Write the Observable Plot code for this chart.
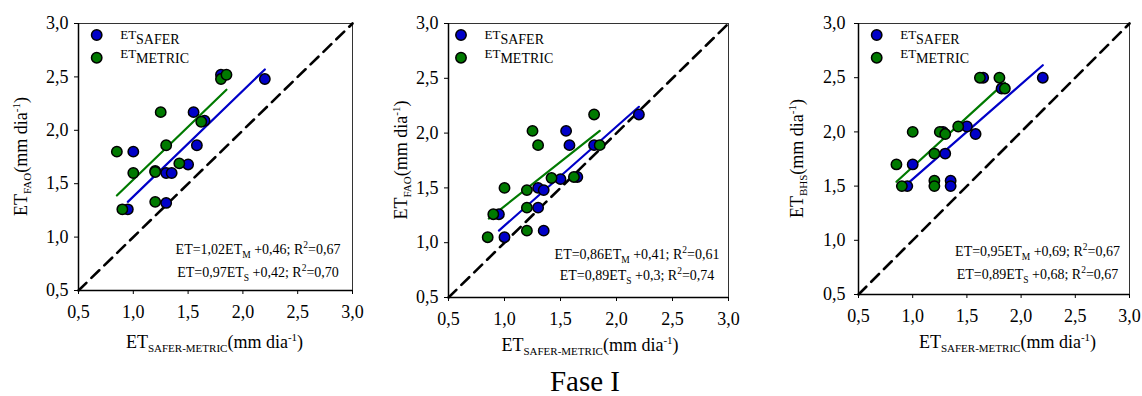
<!DOCTYPE html>
<html><head><meta charset="utf-8">
<script src="https://cdn.jsdelivr.net/npm/d3@7"></script>
<script src="https://cdn.jsdelivr.net/npm/@observablehq/plot@0.6"></script>
<style>
html,body{margin:0;padding:0;background:#fff;}
#wrap{position:relative;width:1142px;height:396px;overflow:hidden;font-family:"Liberation Serif",serif;background:#fff;}
.panel{position:absolute;top:0;}
#fase{position:absolute;left:435px;width:300px;top:366.5px;text-align:center;font-size:29px;line-height:29px;color:#000;}
</style>
</head><body>
<div id="wrap">
  <div class="panel" id="p1" style="left:0px;width:380px;"></div>
  <div class="panel" id="p2" style="left:380px;width:380px;"></div>
  <div class="panel" id="p3" style="left:760px;width:382px;"></div>
  <div id="fase">Fase I</div>
</div>
<script>
// ---------- data ----------
const axisDomain = [0.5, 3.0];
const axisTicks = [0.5, 1.0, 1.5, 2.0, 2.5, 3.0];
const diagonal = [[0.5, 0.5], [3.0, 3.0]];
const seriesNames = ["SAFER", "METRIC"];

// Panel 1 (ET_FAO)
const p1SaferX  = [0.95, 1.30, 1.00, 1.20, 1.30, 1.35, 1.50, 1.55, 1.58, 1.65, 1.80, 2.20];
const p1SaferY  = [1.26, 1.32, 1.80, 1.62, 1.60, 1.60, 1.68, 2.17, 1.86, 2.09, 2.52, 2.48];
const p1MetricX = [0.85, 0.90, 1.00, 1.20, 1.20, 1.25, 1.30, 1.42, 1.62, 1.80, 1.85];
const p1MetricY = [1.80, 1.26, 1.60, 1.61, 1.33, 2.17, 1.86, 1.69, 2.08, 2.48, 2.52];
const p1SaferLine  = [[0.95, 1.33], [2.20, 2.57]];
const p1MetricLine = [[0.85, 1.39], [1.85, 2.38]];
const p1EqM = ["ET=1,02ET", "M", " +0,46; R", "2", "=0,67"];
const p1EqS = ["ET=0,97ET", "S", " +0,42; R", "2", "=0,70"];

// Panel 2 (ET_FAO)
const p2SaferX  = [0.95, 1.00, 1.30, 1.35, 1.30, 1.35, 1.50, 1.65, 1.55, 1.58, 1.80, 2.20];
const p2SaferY  = [1.26, 1.05, 1.32, 1.11, 1.50, 1.48, 1.58, 1.60, 2.02, 1.89, 1.89, 2.17];
const p2MetricX = [0.85, 0.90, 1.00, 1.20, 1.20, 1.20, 1.25, 1.30, 1.42, 1.62, 1.80, 1.85];
const p2MetricY = [1.05, 1.26, 1.50, 1.48, 1.32, 1.11, 2.02, 1.89, 1.59, 1.60, 2.17, 1.89];
const p2SaferLine  = [[0.95, 1.11], [2.20, 2.24]];
const p2MetricLine = [[0.86, 1.22], [1.85, 2.02]];
const p2EqM = ["ET=0,86ET", "M", " +0,41; R", "2", "=0,61"];
const p2EqS = ["ET=0,89ET", "S", " +0,3; R", "2", "=0,74"];

// Panel 3 (ET_BHS)
const p3SaferX  = [0.95, 1.00, 1.30, 1.28, 1.35, 1.35, 1.50, 1.58, 1.65, 1.82, 2.20];
const p3SaferY  = [1.50, 1.70, 1.80, 2.00, 1.55, 1.50, 2.05, 1.98, 2.50, 2.40, 2.50];
const p3MetricX = [0.85, 0.90, 1.00, 1.20, 1.20, 1.20, 1.25, 1.30, 1.42, 1.62, 1.80, 1.85];
const p3MetricY = [1.70, 1.50, 2.00, 1.80, 1.55, 1.50, 2.00, 1.98, 2.05, 2.50, 2.50, 2.40];
const p3SaferLine  = [[0.95, 1.52], [2.20, 2.615]];
const p3MetricLine = [[0.85, 1.54], [1.85, 2.455]];
const p3EqM = ["ET=0,95ET", "M", " +0,69; R", "2", "=0,67"];
const p3EqS = ["ET=0,89ET", "S", " +0,68; R", "2", "=0,67"];

const yTitleSubs = ["FAO", "FAO", "BHS"];
const xTitleSub = "SAFER-METRIC";

// ---------- styling ----------
const BLUE = "#0000c8", GREEN = "#007a00";
const FONT = "Liberation Serif";
const fmt = d => d.toFixed(1).replace(".", ",");
const pts = (xs, ys) => xs.map((x, i) => ({x, y: ys[i]}));

function serif(sel, size) {
  return sel.attr("font-family", FONT).attr("font-size", size)
    .attr("style", `font-family: '${FONT}', serif; font-size: ${size}px`);
}

function panel(el, c) {
  const plot = Plot.plot({
    width: c.width, height: 360,
    marginLeft: c.mL, marginRight: c.mR, marginTop: 23, marginBottom: c.mB,
    x: {domain: axisDomain},
    y: {domain: axisDomain},
    style: {fontFamily: FONT, fontSize: "18px", color: "#000", background: "#fff", overflow: "visible"},
    marks: [
      Plot.frame({stroke: "#333", strokeWidth: 1}),
      Plot.line(diagonal, {x: d => d[0], y: d => d[1], stroke: "#000", strokeWidth: 2.6, strokeDasharray: "11,7"}),
      Plot.line(c.saferLine, {x: d => d[0], y: d => d[1], stroke: BLUE, strokeWidth: 2.2}),
      Plot.line(c.metricLine, {x: d => d[0], y: d => d[1], stroke: GREEN, strokeWidth: 2.2}),
      Plot.dot(pts(c.saferX, c.saferY), {x: "x", y: "y", r: 5.2, fill: BLUE, stroke: "#000", strokeWidth: 1.5}),
      Plot.dot(pts(c.metricX, c.metricY), {x: "x", y: "y", r: 5.2, fill: GREEN, stroke: "#000", strokeWidth: 1.5}),
      Plot.ruleX([axisDomain[0]], {stroke: "#000", strokeWidth: 1.5}),
      Plot.ruleY([axisDomain[0]], {stroke: "#000", strokeWidth: 1.5}),
      Plot.axisX({ticks: axisTicks, tickFormat: fmt, tickSize: 4, tickPadding: 11, label: null, fontSize: 18, fontFamily: FONT, fontVariant: "normal"}),
      Plot.axisY({ticks: axisTicks, tickFormat: fmt, tickSize: 4, tickPadding: c.yPad, label: null, fontSize: 18, fontFamily: FONT, fontVariant: "normal"})
    ]
  });
  el.appendChild(plot);
  const svg = d3.select(plot);
  const g = svg.append("g").attr("fill", "#000").attr("text-anchor", "start");

  // legend
  const legY = [35, 57.7], legT = [39.3, 57.7];
  [BLUE, GREEN].forEach((col, i) => {
    g.append("circle").attr("cx", c.legX).attr("cy", legY[i]).attr("r", 5.2)
      .attr("fill", col).attr("stroke", "#000").attr("stroke-width", 1.5);
    const t = serif(g.append("text"), 13).attr("x", c.legX + 23.5).attr("y", legT[i]).attr("text-anchor", "start");
    t.append("tspan").text("ET");
    serif(t.append("tspan"), 14).attr("dy", 5).text(seriesNames[i]);
  });

  // equations
  [c.eqM, c.eqS].forEach((parts, i) => {
    const t = serif(g.append("text"), 14).attr("x", c.eqX).attr("y", c.eqY[i]).attr("text-anchor", "middle");
    t.append("tspan").text(parts[0]);
    serif(t.append("tspan"), 9.5).attr("dy", 4).text(parts[1]);
    t.append("tspan").attr("dy", -4).text(parts[2]);
    serif(t.append("tspan"), 9.5).attr("dy", -6).text(parts[3]);
    t.append("tspan").attr("dy", 6).text(parts[4]);
  });

  // x title
  const xt = serif(g.append("text"), 18).attr("x", c.xtX).attr("y", c.xtY).attr("text-anchor", "middle");
  xt.append("tspan").text("ET");
  serif(xt.append("tspan"), 11).attr("dy", 4).text(xTitleSub);
  xt.append("tspan").attr("dy", -4).text("(mm dia");
  serif(xt.append("tspan"), 11).attr("dy", -7).text("-1");
  xt.append("tspan").attr("dy", 7).text(")");

  // y title
  const yt = serif(g.append("text"), 18).attr("transform", `translate(${c.ytX},${c.ytY}) rotate(-90)`)
    .attr("text-anchor", "middle");
  yt.append("tspan").text("ET");
  serif(yt.append("tspan"), 11).attr("dy", 4).text(c.ySub);
  yt.append("tspan").attr("dy", -4).text("(mm dia");
  serif(yt.append("tspan"), 11).attr("dy", -7).text("-1");
  yt.append("tspan").attr("dy", 7).text(")");
}

panel(document.getElementById("p1"), {
  width: 380, mL: 78, mR: 28, mB: 70, yPad: 6,
  saferX: p1SaferX, saferY: p1SaferY, metricX: p1MetricX, metricY: p1MetricY,
  saferLine: p1SaferLine, metricLine: p1MetricLine, eqM: p1EqM, eqS: p1EqS,
  legX: 96.7, eqX: 258, eqY: [254, 277], xtX: 214.5, xtY: 348, ytX: 27, ytY: 156.5, ySub: yTitleSubs[0]
});
panel(document.getElementById("p2"), {
  width: 380, mL: 68, mR: 32, mB: 63, yPad: 6,
  saferX: p2SaferX, saferY: p2SaferY, metricX: p2MetricX, metricY: p2MetricY,
  saferLine: p2SaferLine, metricLine: p2MetricLine, eqM: p2EqM, eqS: p2EqS,
  legX: 81, eqX: 257, eqY: [259, 280], xtX: 210, xtY: 351, ytX: 27, ytY: 160, ySub: yTitleSubs[1]
});
panel(document.getElementById("p3"), {
  width: 382, mL: 98, mR: 13, mB: 66, yPad: 9,
  saferX: p3SaferX, saferY: p3SaferY, metricX: p3MetricX, metricY: p3MetricY,
  saferLine: p3SaferLine, metricLine: p3MetricLine, eqM: p3EqM, eqS: p3EqS,
  legX: 116.7, eqX: 277.5, eqY: [256, 279], xtX: 247.5, xtY: 348, ytX: 43, ytY: 158.5, ySub: yTitleSubs[2]
});
</script>
</body></html>
